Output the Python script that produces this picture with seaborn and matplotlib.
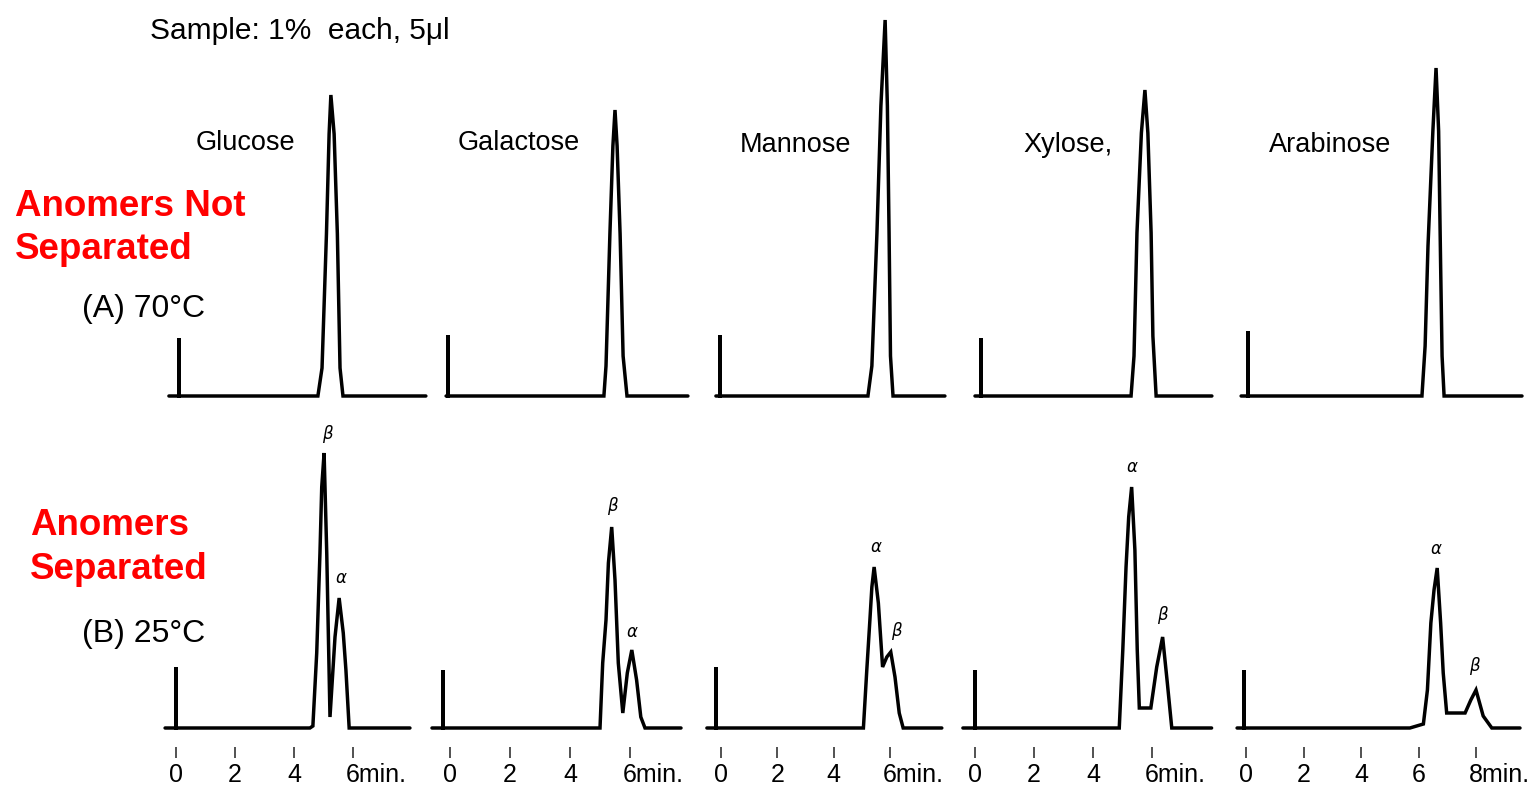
import matplotlib
matplotlib.use("Agg")
import matplotlib.pyplot as plt
import seaborn as sns
import pandas as pd
from matplotlib.transforms import ScaledTranslation

sns.set_theme(style="white")
plt.rcParams['font.family'] = ['Liberation Sans', 'DejaVu Sans']
plt.rcParams['text.color'] = 'black'
plt.rcParams['xtick.color'] = 'black'

# ---------------- data (retention time in min, detector signal in arbitrary units) ----------------
sugars = ["Glucose", "Galactose", "Mannose", "Xylose,", "Arabinose"]

# (A) 70 C  -- anomers not separated
glucose_70_t = [-0.24, 0.10, 0.10, 0.10, 4.81, 4.95, 5.10, 5.19, 5.25, 5.36, 5.47, 5.56, 5.66, 8.47]
glucose_70_y = [0, 0, 58, 0, 0, 28, 162, 262, 301, 262, 162, 28, 0, 0]
galactose_70_t = [-0.13, -0.07, -0.07, -0.07, 5.13, 5.20, 5.33, 5.43, 5.50, 5.57, 5.67, 5.77, 5.90, 7.93]
galactose_70_y = [0, 0, 61, 0, 0, 30, 162, 250, 286, 250, 162, 40, 0, 0]
mannose_70_t = [-0.18, -0.04, -0.04, -0.04, 5.21, 5.35, 5.53, 5.67, 5.82, 5.90, 5.96, 6.01, 6.10, 7.94]
mannose_70_y = [0, 0, 61, 0, 0, 30, 163, 290, 376, 290, 163, 40, 0, 0]
xylose_70_t = [0.00, 0.20, 0.20, 0.20, 5.29, 5.39, 5.49, 5.64, 5.76, 5.86, 5.97, 6.03, 6.14, 8.03]
xylose_70_y = [0, 0, 58, 0, 0, 40, 163, 263, 306, 263, 163, 60, 0, 0]
arabinose_70_t = [-0.17, 0.07, 0.07, 0.07, 6.12, 6.23, 6.33, 6.50, 6.61, 6.70, 6.77, 6.82, 6.89, 9.60]
arabinose_70_y = [0, 0, 65, 0, 0, 50, 150, 265, 328, 265, 130, 40, 0, 0]

# (B) 25 C  -- anomers separated
glucose_25_t = [-0.37, 0.00, 0.00, 0.00, 4.54, 4.64, 4.77, 4.88, 4.94, 5.02, 5.11, 5.22, 5.39, 5.53, 5.67, 5.76, 5.87, 7.93]
glucose_25_y = [0, 0, 61, 0, 0, 2, 75, 175, 241, 275, 175, 11, 91, 130, 95, 58, 0, 0]
galactose_25_t = [-0.60, -0.23, -0.23, -0.23, 5.00, 5.09, 5.20, 5.28, 5.39, 5.50, 5.61, 5.76, 5.91, 6.06, 6.22, 6.36, 6.50, 7.70]
galactose_25_y = [0, 0, 58, 0, 0, 65, 108, 165, 201, 148, 65, 15, 55, 78, 48, 11, 0, 0]
mannose_25_t = [-0.50, -0.18, -0.18, -0.18, 5.05, 5.17, 5.28, 5.35, 5.43, 5.58, 5.73, 5.88, 6.02, 6.17, 6.32, 6.46, 7.83]
mannose_25_y = [0, 0, 61, 0, 0, 58, 108, 141, 161, 125, 61, 71, 76, 51, 15, 0, 0]
xylose_25_t = [-0.41, 0.00, 0.00, 0.00, 4.89, 5.01, 5.12, 5.21, 5.31, 5.42, 5.50, 5.57, 5.96, 6.16, 6.36, 6.52, 6.67, 8.02]
xylose_25_y = [0, 0, 58, 0, 0, 78, 161, 211, 241, 178, 78, 20, 20, 61, 91, 45, 0, 0]
arabinose_25_t = [-0.31, -0.07, -0.07, -0.07, 5.70, 6.17, 6.31, 6.43, 6.54, 6.65, 6.77, 6.86, 6.98, 7.62, 7.82, 8.00, 8.25, 8.55, 9.53]
arabinose_25_y = [0, 0, 58, 0, 0, 4, 38, 105, 138, 160, 105, 55, 15, 15, 28, 38, 12, 0, 0]

# anomer labels at 25 C: (symbol, time, signal)
glucose_anomers = [("β", 5.12, 294), ("α", 5.59, 150)]
galactose_anomers = [("β", 5.40, 222), ("α", 6.07, 96)]
mannose_anomers = [("α", 5.50, 181), ("β", 6.20, 97)]
xylose_anomers = [("α", 5.32, 261), ("β", 6.34, 113)]
arabinose_anomers = [("α", 6.61, 179), ("β", 7.93, 62)]

# time axis ticks
tick_values = [[0, 2, 4, 6], [0, 2, 4, 6], [0, 2, 4, 6], [0, 2, 4, 6], [0, 2, 4, 6, 8]]
tick_labels = [["0", "2", "4", "6min."], ["0", "2", "4", "6min."], ["0", "2", "4", "6min."],
               ["0", "2", "4", "6min."], ["0", "2", "4", "6", "8min."]]

traces_70 = [(glucose_70_t, glucose_70_y), (galactose_70_t, galactose_70_y), (mannose_70_t, mannose_70_y),
             (xylose_70_t, xylose_70_y), (arabinose_70_t, arabinose_70_y)]
traces_25 = [(glucose_25_t, glucose_25_y), (galactose_25_t, galactose_25_y), (mannose_25_t, mannose_25_y),
             (xylose_25_t, xylose_25_y), (arabinose_25_t, arabinose_25_y)]
anomers_25 = [glucose_anomers, galactose_anomers, mannose_anomers, xylose_anomers, arabinose_anomers]

# ---------------- layout (pixels) ----------------
W, H = 1534, 787
fig = plt.figure(figsize=(W / 100, H / 100), dpi=100)
fig.patch.set_facecolor("white")

col_left = [160, 430, 700, 955, 1228]
col_right = [430, 700, 955, 1228, 1530]
zero_px = [176, 450, 721, 975, 1246]
px_per_min = [29.5, 30.0, 28.2, 29.5, 28.75]
label_px = [245, 519, 795, 1068, 1330]
label_py = [150, 150, 152, 152, 152]

rows = [  # (top px, bottom px, baseline px)
    (5, 401, 396),
    (420, 733, 728),
]


def fx(px):
    return px / W


def fy(py):
    return 1 - py / H


for c in range(5):
    xl = ((col_left[c] - zero_px[c]) / px_per_min[c], (col_right[c] - zero_px[c]) / px_per_min[c])
    for r, (top, bot, base) in enumerate(rows):
        ax = fig.add_axes([fx(col_left[c]), fy(bot), (col_right[c] - col_left[c]) / W, (bot - top) / H])
        ax.patch.set_alpha(0)
        t, y = (traces_70 if r == 0 else traces_25)[c]
        df = pd.DataFrame({"t": t, "y": y})
        sns.lineplot(data=df, x="t", y="y", ax=ax, sort=False, estimator=None,
                     color="black", linewidth=2.5, solid_joinstyle="miter")
        for line in ax.lines:
            line.set_clip_on(False)
        ax.set_xlim(*xl)
        ax.set_ylim(-(bot - base), base - top)
        ax.set_xlabel("")
        ax.set_ylabel("")
        ax.set_yticks([])
        for s in ["top", "left", "right"]:
            ax.spines[s].set_visible(False)
        if r == 0:
            ax.spines["bottom"].set_visible(False)
            ax.set_xticks([])
        else:
            ax.spines["bottom"].set_position(("outward", 10))
            ax.spines["bottom"].set_color("none")
            ax.set_xticks(tick_values[c])
            ax.set_xticklabels(tick_labels[c])
            ax.tick_params(axis="x", direction="out", length=8, width=1.2, color="#333333",
                           pad=3.5, labelsize=18, labelcolor="black", bottom=True)
            last = ax.get_xticklabels()[-1]
            last.set_horizontalalignment("left")
            last.set_transform(last.get_transform() + ScaledTranslation(-7.0 / 100, 0, fig.dpi_scale_trans))
            for sym, tt, yy in anomers_25[c]:
                ax.text(tt, yy, sym, ha="center", va="center", fontsize=12, style="italic",
                        family=["DejaVu Sans"], color="black")
    fig.text(fx(label_px[c]), fy(label_py[c]), sugars[c], ha="center", va="baseline", fontsize=19.5,
             color="black")

fig.text(fx(150), fy(39), "Sample: 1%  each, 5μl", ha="left", va="baseline", fontsize=21.5, color="black")
fig.text(fx(15), fy(216), "Anomers Not", ha="left", va="baseline", fontsize=26.5,
         fontweight="bold", color="#ff0000")
fig.text(fx(15), fy(259), "Separated", ha="left", va="baseline", fontsize=26.5,
         fontweight="bold", color="#ff0000")
fig.text(fx(30), fy(535), "Anomers", ha="left", va="baseline", fontsize=26.5,
         fontweight="bold", color="#ff0000")
fig.text(fx(30), fy(579), "Separated", ha="left", va="baseline", fontsize=26.5,
         fontweight="bold", color="#ff0000")
fig.text(fx(82), fy(317), "(A) 70°C", ha="left", va="baseline", fontsize=23, color="black")
fig.text(fx(82), fy(642), "(B) 25°C", ha="left", va="baseline", fontsize=23, color="black")

fig.savefig("out.png", dpi=100, facecolor="white")
